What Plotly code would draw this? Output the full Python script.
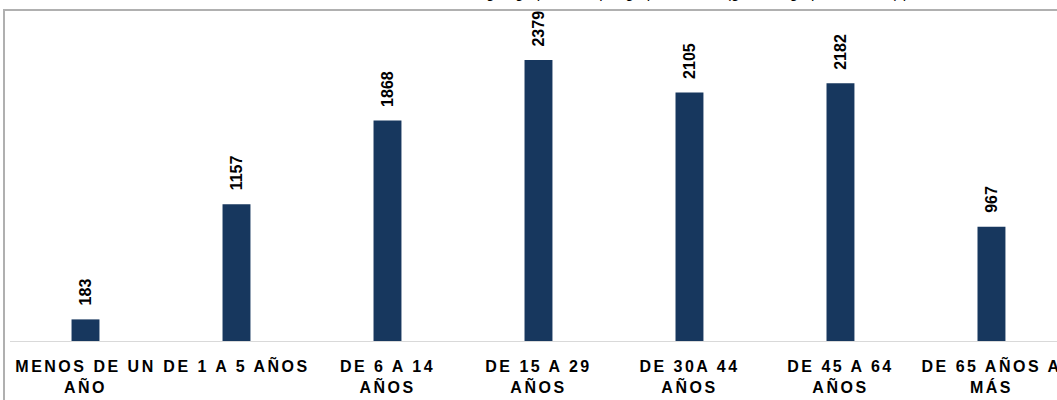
import plotly.graph_objects as go

categories = ["MENOS DE UN<br>AÑO", "DE 1 A 5 AÑOS", "DE 6 A 14<br>AÑOS", "DE 15 A 29<br>AÑOS",
              "DE 30A 44<br>AÑOS", "DE 45 A 64<br>AÑOS", "DE 65 AÑOS A<br>MÁS"]
values = [183, 1157, 1868, 2379, 2105, 2182, 967]
title_text = "Población según grupo etario por grupo de edad (grandes grupos de edad) por sexo"

BAR = "#17375E"
FONT = "Liberation Sans, Arial, sans-serif"

fig = go.Figure()
fig.add_trace(go.Bar(x=list(range(len(categories))), y=values, width=0.185,
                     marker=dict(color=BAR, line=dict(width=0)), hoverinfo="skip"))

for i, v in enumerate(values):
    fig.add_annotation(x=i, y=v, text=str(v), textangle=-90, showarrow=False,
                       yanchor="bottom", yshift=12, xref="x", yref="y",
                       font=dict(family=FONT, size=16, color="#000000", weight="bold"))

fig.add_annotation(x=0.64, y=1.052, xref="paper", yref="paper", text=title_text,
                   showarrow=False, xanchor="center", yanchor="middle",
                   font=dict(family=FONT, size=15, color="#000000"))

fig.add_shape(type="rect", xref="paper", yref="paper", x0=-6/1047, x1=1.2, y0=-0.4, y1=1.0,
              line=dict(color="#b0b0b0", width=2), fillcolor="rgba(0,0,0,0)", layer="below")

fig.update_layout(
    width=1057, height=400,
    margin=dict(l=10, r=0, t=10, b=59, autoexpand=False),
    paper_bgcolor="white", plot_bgcolor="white",
    showlegend=False,
    xaxis=dict(tickmode="array", tickvals=list(range(len(categories))), ticktext=categories,
               range=[-0.5, 6.434], showgrid=False, zeroline=False, automargin=False,
               showline=True, linecolor="#d9d9d9", linewidth=1, ticks="",
               tickfont=dict(family=FONT, size=16, color="#000000", weight="bold"),
               tickangle=0, ticklabelstandoff=11),
    yaxis=dict(range=[0, 2803], visible=False, showgrid=False, zeroline=False, automargin=False),
)

post = """
var s=document.createElement('style');
s.innerHTML='body{margin:0;overflow:hidden}.xtick text{letter-spacing:2.5px}';
document.head.appendChild(s);
"""
fig.write_html("out.html", post_script=post, config={"displayModeBar": False, "staticPlot": True})
